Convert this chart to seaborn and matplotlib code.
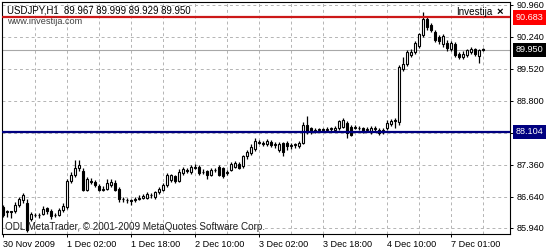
import numpy as np
import pandas as pd
import matplotlib
matplotlib.use("Agg")
import matplotlib.pyplot as plt
import seaborn as sns

# ---------------- data ----------------
opens = [86.41, 86.30, 86.31, 86.32, 86.45, 86.56, 86.50, 86.14, 86.23, 86.22,
         86.26, 86.39, 86.33, 86.22, 86.24, 86.34, 86.40, 87.00, 87.12, 87.30,
         87.22, 86.80, 87.00, 86.98, 86.88, 86.80, 86.82, 86.90, 86.96, 86.82,
         86.60, 86.57, 86.56, 86.56, 86.60, 86.62, 86.62, 86.69, 86.63, 86.75,
         86.80, 86.90, 87.02, 87.11, 87.00, 87.18, 87.25, 87.20, 87.30, 87.32,
         87.20, 87.22, 87.14, 87.24, 87.32, 87.28, 87.18, 87.25, 87.32, 87.38,
         87.34, 87.55, 87.62, 87.72, 87.86, 87.86, 87.82, 87.88, 87.80, 87.70,
         87.85, 87.86, 87.78, 87.80, 87.78, 87.85, 88.26, 88.18, 88.12, 88.14,
         88.16, 88.15, 88.16, 88.14, 88.18, 88.22, 88.30, 88.22, 88.20, 88.20,
         88.18, 88.15, 88.10, 88.16, 88.14, 88.09, 88.18, 88.28, 88.34, 88.32,
         89.52, 89.62, 89.84, 89.90, 90.04, 90.28, 90.64, 90.50, 90.36, 90.24,
         90.08, 90.10, 89.96, 90.08, 89.86, 89.78, 89.84, 89.90, 89.96, 89.82,
         89.967]
highs = [86.46, 86.34, 86.33, 86.52, 86.63, 86.73, 86.60, 86.30, 86.28, 86.28,
         86.43, 86.42, 86.37, 86.28, 86.38, 86.50, 87.05, 87.20, 87.47, 87.47,
         87.30, 87.08, 87.06, 87.02, 86.92, 86.88, 87.04, 87.05, 87.02, 86.86,
         86.64, 86.62, 86.60, 86.64, 86.67, 86.70, 86.74, 86.73, 86.77, 86.86,
         86.95, 87.17, 87.16, 87.14, 87.26, 87.32, 87.30, 87.36, 87.37, 87.36,
         87.26, 87.25, 87.28, 87.30, 87.36, 87.32, 87.25, 87.42, 87.44, 87.42,
         87.58, 87.70, 87.82, 87.97, 87.93, 87.90, 87.95, 87.92, 87.88, 87.88,
         87.88, 87.90, 87.86, 87.86, 87.90, 88.32, 88.46, 88.22, 88.20, 88.20,
         88.20, 88.22, 88.22, 88.24, 88.38, 88.42, 88.34, 88.26, 88.26, 88.24,
         88.22, 88.22, 88.24, 88.23, 88.18, 88.18, 88.36, 88.40, 88.42, 89.60,
         89.80, 89.95, 89.96, 90.14, 90.32, 90.80, 90.72, 90.55, 90.40, 90.28,
         90.30, 90.18, 90.16, 90.12, 89.90, 89.92, 89.98, 90.02, 90.00, 89.98,
         89.999]
lows = [86.19, 86.19, 86.16, 86.28, 86.40, 86.50, 85.85, 86.10, 86.18, 86.17,
        86.22, 86.26, 86.14, 86.18, 86.20, 86.30, 86.36, 86.95, 87.08, 87.22,
        86.76, 86.76, 86.92, 86.86, 86.76, 86.76, 86.80, 86.86, 86.76, 86.53,
        86.52, 86.50, 86.46, 86.53, 86.56, 86.58, 86.58, 86.62, 86.60, 86.70,
        86.76, 86.86, 86.98, 86.96, 86.97, 87.14, 87.17, 87.16, 87.26, 87.14,
        87.15, 87.04, 87.10, 87.20, 87.10, 87.06, 87.14, 87.22, 87.28, 87.26,
        87.30, 87.50, 87.58, 87.68, 87.82, 87.78, 87.78, 87.76, 87.74, 87.66,
        87.55, 87.70, 87.72, 87.74, 87.74, 87.82, 88.06, 88.05, 88.08, 88.10,
        88.10, 88.11, 88.12, 88.10, 88.14, 88.18, 87.97, 88.00, 88.16, 88.14,
        88.08, 88.10, 88.06, 88.12, 88.03, 88.05, 88.15, 88.24, 88.20, 88.26,
        89.48, 89.58, 89.78, 89.86, 90.00, 90.24, 90.40, 90.35, 90.12, 90.08,
        90.02, 89.92, 89.92, 89.80, 89.74, 89.74, 89.80, 89.86, 89.82, 89.66,
        89.929]
closes = [86.23, 86.31, 86.30, 86.46, 86.59, 86.68, 85.90, 86.25, 86.22, 86.24,
          86.37, 86.31, 86.20, 86.23, 86.35, 86.43, 87.00, 87.13, 87.30, 87.36,
          86.80, 87.04, 86.98, 86.90, 86.80, 86.82, 86.96, 86.98, 86.80, 86.58,
          86.58, 86.56, 86.55, 86.60, 86.62, 86.65, 86.71, 86.67, 86.74, 86.82,
          86.90, 87.13, 87.12, 87.00, 87.20, 87.26, 87.23, 87.32, 87.32, 87.18,
          87.21, 87.13, 87.24, 87.25, 87.14, 87.11, 87.20, 87.38, 87.40, 87.30,
          87.55, 87.65, 87.77, 87.90, 87.88, 87.84, 87.90, 87.80, 87.82, 87.84,
          87.65, 87.78, 87.80, 87.82, 87.86, 88.26, 88.10, 88.10, 88.14, 88.16,
          88.15, 88.17, 88.18, 88.20, 88.34, 88.36, 88.08, 88.04, 88.22, 88.18,
          88.11, 88.16, 88.20, 88.18, 88.08, 88.15, 88.30, 88.35, 88.36, 89.56,
          89.64, 89.90, 89.90, 90.10, 90.30, 90.64, 90.46, 90.40, 90.18, 90.14,
          90.26, 90.00, 90.10, 89.84, 89.80, 89.86, 89.94, 89.98, 89.86, 89.94,
          89.950]

time_tick_bars = [0, 16, 32, 48, 64, 80, 96, 112]
time_tick_labels = ["30 Nov 2009", "1 Dec 02:00", "1 Dec 18:00", "2 Dec 10:00",
                    "3 Dec 02:00", "3 Dec 18:00", "4 Dec 10:00", "7 Dec 01:00"]
price_ticks = [90.96, 90.24, 89.52, 88.80, 88.08, 87.36, 86.64, 85.94]
price_tick_labels = ["90.960", "90.240", "89.520", "88.800", "", "87.360", "86.640", "85.940"]

resistance_level = 90.683
support_level = 88.104
bid_level = 89.950

title_text = "USDJPY,H1  89.967 89.999 89.929 89.950"
site_text = "www.investija.com"
indicator_text = "Investija"
footer_text = "ODL MetaTrader, \u00a9 2001-2009 MetaQuotes Software Corp."

# ---------------- style ----------------
sns.set_theme(style="white")
plt.rcParams["font.family"] = ["Liberation Sans", "DejaVu Sans"]
FS = 6.6

df = pd.DataFrame({"open": opens, "high": highs, "low": lows, "close": closes})
df["bar"] = np.arange(len(df))
df["bull"] = df["close"] >= df["open"]
df["body_lo"] = df[["open", "close"]].min(axis=1)
df["body_h"] = (df["close"] - df["open"]).abs()

W, H = 550, 250
fig = plt.figure(figsize=(W / 100, H / 100), dpi=100)
fig.patch.set_facecolor("white")
ax_l, ax_r, ax_t, ax_b = 2, 510, 2, 234
ax = fig.add_axes([ax_l / W, 1 - ax_b / H, (ax_r - ax_l) / W, (ax_b - ax_t) / H])
ax.set_facecolor("white")

# pixel mapping: bar i at x=3+4i, price 90.96 at y=5, 44.4 px per unit
ax.set_xlim((ax_l - 3) / 4, (ax_r - 3) / 4)
ax.set_ylim(90.96 - (ax_b - 5) / 44.4, 90.96 + (5 - ax_t) / 44.4)

# grid
grid_kw = dict(color="#b4b4b4", lw=0.7, ls=(0, (3, 3)), zorder=0)
for b in range(8, len(df), 8):
    ax.axvline(b, **grid_kw)
for p in price_ticks:
    ax.axhline(p, **grid_kw)

# bid line
ax.axhline(bid_level, color="#a8a8a8", lw=0.8, zorder=1)

# candles
ax.vlines(df["bar"], df["low"], df["high"], color="black", lw=0.9, zorder=2)
ax.bar(df["bar"], np.maximum(df["body_h"], 0.004), bottom=df["body_lo"], width=0.74,
       color=np.where(df["bull"], "white", "black"), edgecolor="black", lw=0.8, zorder=3)

# level lines
ax.axhline(resistance_level, color="#cc1818", lw=1.6, zorder=4)
ax.axhline(support_level, color="#000080", lw=1.6, zorder=4)

# axes / ticks
for s in ax.spines.values():
    s.set_color("black")
    s.set_linewidth(0.8)
ax.yaxis.tick_right()
ax.set_yticks(price_ticks)
ax.set_yticklabels(price_tick_labels)
ax.set_xticks(time_tick_bars)
ax.set_xticklabels(time_tick_labels, ha="left")
ax.tick_params(axis="both", which="major", length=2.5, width=0.7, color="black",
               labelsize=FS, labelcolor="black", pad=2)
ax.tick_params(axis="x", bottom=True, pad=1.5)
ax.tick_params(axis="y", right=True, left=False, pad=2.5)
for lab in ax.get_xticklabels():
    lab.set_horizontalalignment("left")
ax.grid(False)

# price boxes
ytr = ax.get_yaxis_transform()
box_x = 1 + 5.5 / (ax_r - ax_l)
for lvl, txt, fc in [(resistance_level, "90.683", "#ff0000"),
                     (bid_level, "89.950", "black"),
                     (support_level, "88.104", "#000080")]:
    ax.text(box_x, lvl, txt, transform=ytr, ha="left", va="center", fontsize=FS,
            color="white", clip_on=False, zorder=6,
            bbox=dict(boxstyle="square,pad=0.3", fc=fc, ec="none"))

# texts
ax.text(5 / (ax_r - ax_l), 1 - (10.5 - ax_t) / (ax_b - ax_t), title_text, transform=ax.transAxes,
        ha="left", va="center", fontsize=FS + 0.3, color="black", zorder=7)
ax.text(5 / (ax_r - ax_l), 1 - (21.5 - ax_t) / (ax_b - ax_t), site_text, transform=ax.transAxes,
        ha="left", va="center", fontsize=FS, color="#404040", zorder=7)
ax.text((492 - ax_l) / (ax_r - ax_l), 1 - (12 - ax_t) / (ax_b - ax_t), indicator_text,
        transform=ax.transAxes, ha="right", va="center", fontsize=FS + 0.5, color="black", zorder=7)
ax.text((500 - ax_l) / (ax_r - ax_l), 1 - (12 - ax_t) / (ax_b - ax_t), "\u00d7",
        transform=ax.transAxes, ha="center", va="center", fontsize=FS + 1.5,
        fontweight="bold", color="black", zorder=7)
ax.text(3 / (ax_r - ax_l), 1 - (227 - ax_t) / (ax_b - ax_t), footer_text, transform=ax.transAxes,
        ha="left", va="center", fontsize=FS + 0.5, color="#202020", zorder=7)

fig.savefig("out.png", dpi=100)
